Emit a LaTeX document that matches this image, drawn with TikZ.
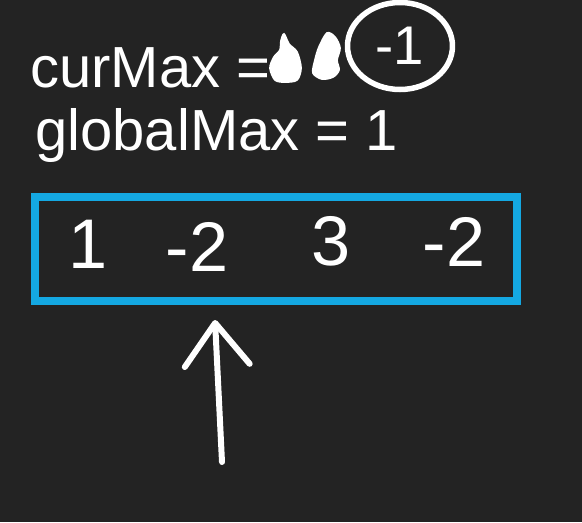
\documentclass[tikz,border=0pt]{standalone}
\usepackage{fontspec}
\setmainfont{Liberation Sans}
\usepackage{xcolor}
\usepackage{tikz}
\usetikzlibrary{arrows.meta,positioning,shapes}

\definecolor{boardgray}{RGB}{35,35,35}
\definecolor{boardblue}{RGB}{20,168,226}

\begin{document}
\begin{tikzpicture}[x=0.02cm, y=-0.02cm,
    hand/.style={inner sep=0pt, text=white, font=\fontsize{33}{36}\selectfont},
    num/.style={inner sep=0pt, text=white, font=\fontsize{40}{44}\selectfont},
    arraybox/.style={rectangle, draw=boardblue, line width=0.16cm,
                     minimum width=9.64cm, minimum height=2.08cm},
    circled/.style={ellipse, draw=white, line width=0.11cm, inner sep=0pt,
                    minimum width=2.1cm, minimum height=1.74cm,
                    text=white, font=\fontsize{31}{34}\selectfont},
    scribble/.style={fill=white, draw=white, line width=1pt},
    pointer/.style={-{Straight Barb[length=0.85cm, width=1.3cm, round]},
                    line width=0.12cm, white, line cap=round}
]
    \useasboundingbox[fill=boardgray] (0,0) rectangle (582,522);

    % Variables
    \node[hand, anchor=base west] (curmax)    at (30, 87)  {curMax =};
    \node[circled]                (curval)    at (400, 46) {-1};
    \node[hand, anchor=base west] (globalmax) at (35, 150) {globalMax = 1};

    % Scribbled-out values
    \fill[scribble] plot[smooth cycle] coordinates
        {(284,34) (289,44) (297,52) (301,68) (297,80) (285,82) (275,80) (270,68) (274,57) (280,50) (281,41)};
    \fill[scribble] plot[smooth cycle] coordinates
        {(327,33) (335,37) (340,48) (337,60) (339,70) (333,77) (322,79) (313,73) (315,60) (319,47)};

    % Array
    \node[arraybox] (arr) at (276, 249) {};
    \node[num, anchor=base] (n1) at (88, 268)  {1};
    \node[num, anchor=base] (n2) at (197, 271) {-2};
    \node[num, anchor=base] (n3) at (331, 265) {3};
    \node[num, anchor=base] (n4) at (454, 266) {-2};

    % Pointer
    \coordinate (tail) at (222, 462);
    \coordinate (tip)  at (215, 320);
    \draw[pointer] (tail) -- (tip);
\end{tikzpicture}
\end{document}
